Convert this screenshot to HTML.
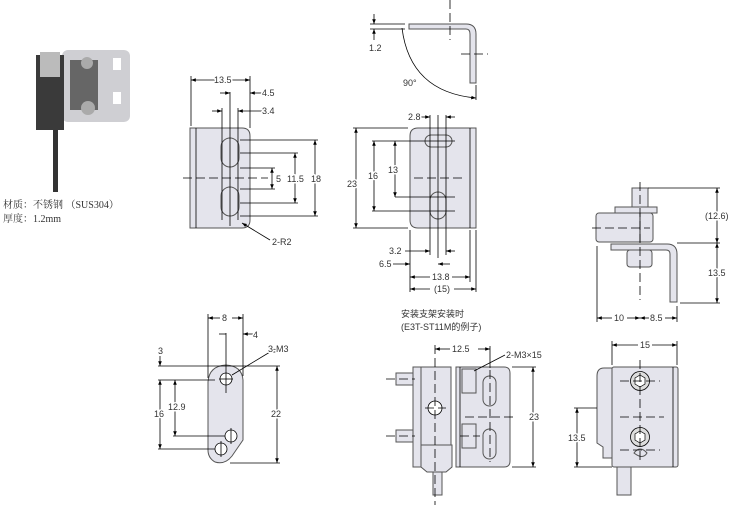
<!DOCTYPE html>
<html><head><meta charset="utf-8"><style>
body{margin:0;background:#fff;width:734px;height:505px;overflow:hidden}
text{font-family:"Liberation Sans","Noto Sans CJK SC",sans-serif;font-size:9px;fill:#333;stroke:#fff;stroke-width:3px;paint-order:stroke;stroke-linejoin:round}
.s{stroke:#000;stroke-width:.8;fill:none}
.p{fill:#e4e4ec;stroke:#555;stroke-width:1}
.c{stroke:#000;stroke-width:.8;stroke-dasharray:9,4;fill:none}
</style></head><body>
<svg width="734" height="505" viewBox="0 0 734 505">
<defs><marker id="a" viewBox="0 0 8 6" refX="8" refY="3" markerWidth="6" markerHeight="5" orient="auto-start-reverse"><path d="M0,0L8,3L0,6z" fill="#000"/></marker></defs>
<g>
<!-- photo -->
<rect x="62" y="50" width="68" height="72" rx="6" fill="#cfcfd3"/>
<rect x="113" y="58" width="8" height="12" fill="#fff"/><rect x="113" y="92" width="8" height="12" fill="#fff"/>
<rect x="36" y="55" width="28" height="75" fill="#3a3a3a"/>
<rect x="40" y="52" width="20" height="25" fill="#bbb"/>
<rect x="70" y="60" width="28" height="50" fill="#666"/>
<circle cx="87" cy="63" r="6" fill="#aaa"/><circle cx="88" cy="108" r="7" fill="#aaa"/>
<rect x="53" y="130" width="5" height="62" fill="#333"/>
<text x="3" y="208" style="font-family:'Liberation Serif','Noto Serif CJK SC',serif;font-size:10px">材质：不锈钢 （SUS304）</text>
<text x="3" y="222" style="font-family:'Liberation Serif','Noto Serif CJK SC',serif;font-size:10px">厚度：1.2mm</text>

<!-- top bent view -->
<path class="p" d="M409,24H466Q476,24 476,34V83H470V34Q470,29 466,29H409Z"/>
<line class="s" x1="370" y1="24" x2="405" y2="24"/><line class="s" x1="370" y1="29" x2="405" y2="29"/>
<line class="s" x1="374" y1="14" x2="374" y2="24" marker-end="url(#a)"/><line class="s" x1="374" y1="40" x2="374" y2="29" marker-end="url(#a)"/>
<text x="369" y="51">1.2</text>
<path class="s" d="M402,28Q410,92 476,98" marker-end="url(#a)"/>
<line class="s" x1="476" y1="85" x2="476" y2="100"/>
<text x="403" y="86">90°</text>
<line class="c" x1="450" y1="0" x2="450" y2="40"/><line class="c" x1="461" y1="54" x2="488" y2="54"/>

<!-- view 2 -->
<path class="p" d="M190,128H242Q250,128 250,136V220Q250,228 242,228H190Z"/>
<line class="s" x1="196" y1="128" x2="196" y2="228"/>
<rect class="p" x="221" y="138" width="18" height="29" rx="9"/>
<rect class="p" x="221" y="187" width="18" height="29" rx="9"/>
<line class="c" x1="183" y1="178" x2="268" y2="178"/>
<line class="s" x1="230" y1="92" x2="230" y2="226"/>
<line class="s" x1="222" y1="108" x2="222" y2="220"/><line class="s" x1="238" y1="108" x2="238" y2="220"/>
<line class="s" x1="191" y1="76" x2="191" y2="126"/><line class="s" x1="250" y1="76" x2="250" y2="128"/>
<line class="s" x1="215" y1="80" x2="191" y2="80" marker-end="url(#a)"/><line class="s" x1="232" y1="80" x2="250" y2="80" marker-end="url(#a)"/>
<text x="214" y="83">13.5</text>
<line class="s" x1="220" y1="93" x2="230" y2="93" marker-end="url(#a)"/><line class="s" x1="262" y1="93" x2="250" y2="93" marker-end="url(#a)"/><text x="262" y="96">4.5</text>
<line class="s" x1="212" y1="111" x2="222" y2="111" marker-end="url(#a)"/><line class="s" x1="262" y1="111" x2="238" y2="111" marker-end="url(#a)"/><text x="262" y="114">3.4</text>
<line class="s" x1="240" y1="140" x2="318" y2="140"/><line class="s" x1="240" y1="153" x2="298" y2="153"/><line class="s" x1="240" y1="168" x2="275" y2="168"/>
<line class="s" x1="240" y1="189" x2="275" y2="189"/><line class="s" x1="240" y1="203" x2="298" y2="203"/><line class="s" x1="240" y1="216" x2="318" y2="216"/>
<line class="s" x1="272" y1="168" x2="272" y2="189" marker-start="url(#a)" marker-end="url(#a)"/><text x="276" y="182">5</text>
<line class="s" x1="295" y1="153" x2="295" y2="203" marker-start="url(#a)" marker-end="url(#a)"/><text x="287" y="182">11.5</text>
<line class="s" x1="315" y1="140" x2="315" y2="216" marker-start="url(#a)" marker-end="url(#a)"/><text x="311" y="182">18</text>
<line class="s" x1="270" y1="240" x2="242" y2="223" marker-end="url(#a)"/><text x="272" y="245">2-R2</text>

<!-- view 3 -->
<path class="p" d="M418,128H476V228H418Q410,228 410,220V136Q410,128 418,128Z"/>
<line class="s" x1="470" y1="128" x2="470" y2="228"/>
<rect class="p" x="425" y="135" width="27" height="12" rx="6"/>
<rect class="p" x="430" y="192" width="16" height="27" rx="8"/>
<line class="s" x1="438" y1="115" x2="438" y2="258"/>
<line class="s" x1="430" y1="115" x2="430" y2="255"/><line class="s" x1="446" y1="115" x2="446" y2="255"/>
<line class="c" x1="414" y1="178" x2="465" y2="178"/>
<line class="s" x1="353" y1="128" x2="408" y2="128"/><line class="s" x1="353" y1="228" x2="408" y2="228"/>
<line class="s" x1="356" y1="128" x2="356" y2="228" marker-start="url(#a)" marker-end="url(#a)"/><text x="347" y="187">23</text>
<line class="s" x1="372" y1="141" x2="455" y2="141"/><line class="s" x1="372" y1="211" x2="455" y2="211"/>
<line class="s" x1="374" y1="141" x2="374" y2="211" marker-start="url(#a)" marker-end="url(#a)"/><text x="368" y="179">16</text>
<line class="s" x1="395" y1="197" x2="455" y2="197"/>
<line class="s" x1="395" y1="141" x2="395" y2="197" marker-start="url(#a)" marker-end="url(#a)"/><text x="388" y="173">13</text>
<line class="s" x1="420" y1="117" x2="430" y2="117" marker-end="url(#a)"/><line class="s" x1="455" y1="117" x2="446" y2="117" marker-end="url(#a)"/><text x="408" y="120">2.8</text>
<line class="s" x1="405" y1="251" x2="430" y2="251" marker-end="url(#a)"/><line class="s" x1="455" y1="251" x2="446" y2="251" marker-end="url(#a)"/><text x="389" y="254">3.2</text>
<line class="s" x1="393" y1="264" x2="410" y2="264" marker-end="url(#a)"/><line class="s" x1="450" y1="264" x2="438" y2="264" marker-end="url(#a)"/><text x="379" y="267">6.5</text>
<line class="s" x1="410" y1="230" x2="410" y2="292"/><line class="s" x1="470" y1="230" x2="470" y2="282"/><line class="s" x1="476" y1="230" x2="476" y2="292"/>
<line class="s" x1="430" y1="277" x2="410" y2="277" marker-end="url(#a)"/><line class="s" x1="452" y1="277" x2="470" y2="277" marker-end="url(#a)"/><text x="432" y="280">13.8</text>
<line class="s" x1="430" y1="289" x2="410" y2="289" marker-end="url(#a)"/><line class="s" x1="454" y1="289" x2="476" y2="289" marker-end="url(#a)"/><text x="434" y="292">(15)</text>

<!-- side right -->
<rect class="p" x="632" y="188" width="16" height="19"/>
<rect class="p" x="615" y="207" width="42" height="6"/>
<rect class="p" x="596" y="213" width="57" height="29" rx="3"/>
<line class="s" x1="640" y1="213" x2="640" y2="242"/>
<path class="p" d="M611,244H667Q677,244 677,254V302H670V254Q670,250 666,250H611Z"/>
<rect class="p" x="627" y="250" width="25" height="17" rx="3"/>
<line class="c" x1="640" y1="182" x2="640" y2="300"/><line class="c" x1="592" y1="228" x2="650" y2="228"/>
<line class="s" x1="648" y1="188" x2="720" y2="188"/><line class="s" x1="677" y1="243" x2="720" y2="243"/><line class="s" x1="680" y1="303" x2="720" y2="303"/>
<line class="s" x1="717" y1="188" x2="717" y2="243" marker-start="url(#a)" marker-end="url(#a)"/><text x="705" y="219">(12.6)</text>
<line class="s" x1="717" y1="243" x2="717" y2="303" marker-start="url(#a)" marker-end="url(#a)"/><text x="708" y="276">13.5</text>
<line class="s" x1="597" y1="246" x2="597" y2="322"/><line class="s" x1="677" y1="306" x2="677" y2="322"/>
<line class="s" x1="612" y1="318" x2="597" y2="318" marker-end="url(#a)"/><line class="s" x1="627" y1="318" x2="640" y2="318" marker-end="url(#a)"/><text x="614" y="321">10</text>
<line class="s" x1="649" y1="318" x2="640" y2="318" marker-end="url(#a)"/><line class="s" x1="665" y1="318" x2="677" y2="318" marker-end="url(#a)"/><text x="650" y="321">8.5</text>

<!-- bottom left bracket -->
<path class="p" d="M208,382Q209,366 226,365Q242,366 243,380V440L232,456Q225,465 215,462Q208,458 208,450Z"/>
<circle cx="226" cy="379" r="6" fill="#fff" stroke="#000" stroke-width=".8"/>
<circle cx="231" cy="436" r="6" fill="#fff" stroke="#000" stroke-width=".8"/>
<circle cx="221" cy="449" r="6" fill="#fff" stroke="#000" stroke-width=".8"/>
<line class="s" x1="226" y1="333" x2="226" y2="393"/><line class="s" x1="219" y1="379" x2="233" y2="379"/>
<line class="s" x1="231" y1="428" x2="231" y2="444"/><line class="s" x1="221" y1="441" x2="221" y2="457"/>
<line class="s" x1="208" y1="314" x2="208" y2="378"/><line class="s" x1="243" y1="314" x2="243" y2="376"/>
<line class="s" x1="220" y1="318" x2="208" y2="318" marker-end="url(#a)"/><line class="s" x1="232" y1="318" x2="243" y2="318" marker-end="url(#a)"/><text x="222" y="321">8</text>
<line class="s" x1="219" y1="334" x2="226" y2="334"/><line class="s" x1="254" y1="334" x2="243" y2="334" marker-end="url(#a)"/><text x="253" y="338">4</text>
<line class="s" x1="270" y1="352" x2="232" y2="375"/><line class="s" x1="270" y1="352" x2="280" y2="352"/><text x="268" y="352">3-M3</text>
<line class="s" x1="158" y1="366" x2="280" y2="366"/><line class="s" x1="158" y1="380" x2="215" y2="380"/>
<line class="s" x1="173" y1="436" x2="225" y2="436"/><line class="s" x1="158" y1="449" x2="215" y2="449"/><line class="s" x1="230" y1="463" x2="280" y2="463"/>
<line class="s" x1="160" y1="356" x2="160" y2="366" marker-end="url(#a)"/><text x="158" y="354">3</text>
<line class="s" x1="160" y1="380" x2="160" y2="449" marker-start="url(#a)" marker-end="url(#a)"/><text x="154" y="417">16</text>
<line class="s" x1="175" y1="380" x2="175" y2="436" marker-start="url(#a)" marker-end="url(#a)"/><text x="168" y="410">12.9</text>
<line class="s" x1="277" y1="366" x2="277" y2="463" marker-start="url(#a)" marker-end="url(#a)"/><text x="271" y="417">22</text>

<!-- bottom middle -->
<text x="401" y="317">安装支架安装时</text>
<text x="401" y="330">(E3T-ST11M的例子)</text>
<rect class="p" x="396" y="373" width="17" height="12"/><rect class="p" x="396" y="430" width="17" height="12"/>
<rect class="p" x="413" y="367" width="8" height="100"/>
<rect class="p" x="421" y="367" width="30" height="78"/>
<path class="p" d="M421,445H452V467L446,472H427L421,467Z"/>
<rect class="p" x="433" y="472" width="9" height="23"/>
<circle cx="435" cy="408" r="7" fill="#fff" stroke="#000" stroke-width=".8"/>
<path class="p" d="M456,367H504Q510,367 510,373V461Q510,467 504,467H456Z"/>
<line class="s" x1="460" y1="367" x2="460" y2="467"/>
<rect class="p" x="462" y="369" width="14" height="24"/><rect class="p" x="462" y="424" width="14" height="24"/>
<rect class="p" x="483" y="376" width="13" height="30" rx="6.5"/><rect class="p" x="483" y="429" width="13" height="30" rx="6.5"/>
<line class="c" x1="435" y1="345" x2="435" y2="505"/><line class="c" x1="490" y1="370" x2="490" y2="462"/>
<line class="c" x1="386" y1="379" x2="415" y2="379"/><line class="c" x1="386" y1="436" x2="415" y2="436"/>
<line class="c" x1="425" y1="408" x2="446" y2="408"/><line class="c" x1="465" y1="417" x2="516" y2="417"/>
<line class="c" x1="460" y1="436" x2="480" y2="436"/>
<line class="s" x1="490" y1="346" x2="490" y2="368"/>
<line class="s" x1="450" y1="349" x2="435" y2="349" marker-end="url(#a)"/><line class="s" x1="478" y1="349" x2="490" y2="349" marker-end="url(#a)"/><text x="452" y="352">12.5</text>
<line class="s" x1="505" y1="355" x2="474" y2="371"/><text x="506" y="358">2-M3×15</text>
<line class="s" x1="512" y1="367" x2="536" y2="367"/><line class="s" x1="512" y1="467" x2="536" y2="467"/>
<line class="s" x1="533" y1="367" x2="533" y2="467" marker-start="url(#a)" marker-end="url(#a)"/><text x="529" y="420">23</text>

<!-- bottom right -->
<path class="p" d="M612,368H604Q597,368 597,376V443L603,447V458H612Z"/>
<rect class="p" x="612" y="367" width="66" height="100" rx="2"/>
<line class="s" x1="673" y1="367" x2="673" y2="467"/>
<circle cx="640" cy="381" r="9.5" fill="#ddd" stroke="#000" stroke-width=".8"/>
<circle cx="640" cy="437" r="9.5" fill="#ddd" stroke="#000" stroke-width=".8"/>
<polygon points="640,375 645,378 645,384 640,387 635,384 635,378" fill="#fff" stroke="#000" stroke-width=".7"/>
<polygon points="640,431 645,434 645,440 640,443 635,440 635,434" fill="#fff" stroke="#000" stroke-width=".7"/>
<path class="p" d="M634,453Q640,445 647,453Q643,460 634,453Z"/>
<rect class="p" x="617" y="467" width="14" height="28"/>
<line class="c" x1="640" y1="360" x2="640" y2="460"/>
<line class="c" x1="620" y1="381" x2="660" y2="381"/><line class="c" x1="620" y1="417" x2="664" y2="417"/><line class="c" x1="620" y1="450" x2="660" y2="450"/>
<line class="s" x1="612" y1="341" x2="612" y2="365"/><line class="s" x1="677" y1="341" x2="677" y2="365"/>
<line class="s" x1="638" y1="345" x2="612" y2="345" marker-end="url(#a)"/><line class="s" x1="652" y1="345" x2="677" y2="345" marker-end="url(#a)"/><text x="640" y="348">15</text>
<line class="s" x1="574" y1="408" x2="597" y2="408"/><line class="s" x1="574" y1="467" x2="612" y2="467"/>
<line class="s" x1="577" y1="408" x2="577" y2="467" marker-start="url(#a)" marker-end="url(#a)"/><text x="568" y="441">13.5</text>
</g>
</svg>
</body></html>
